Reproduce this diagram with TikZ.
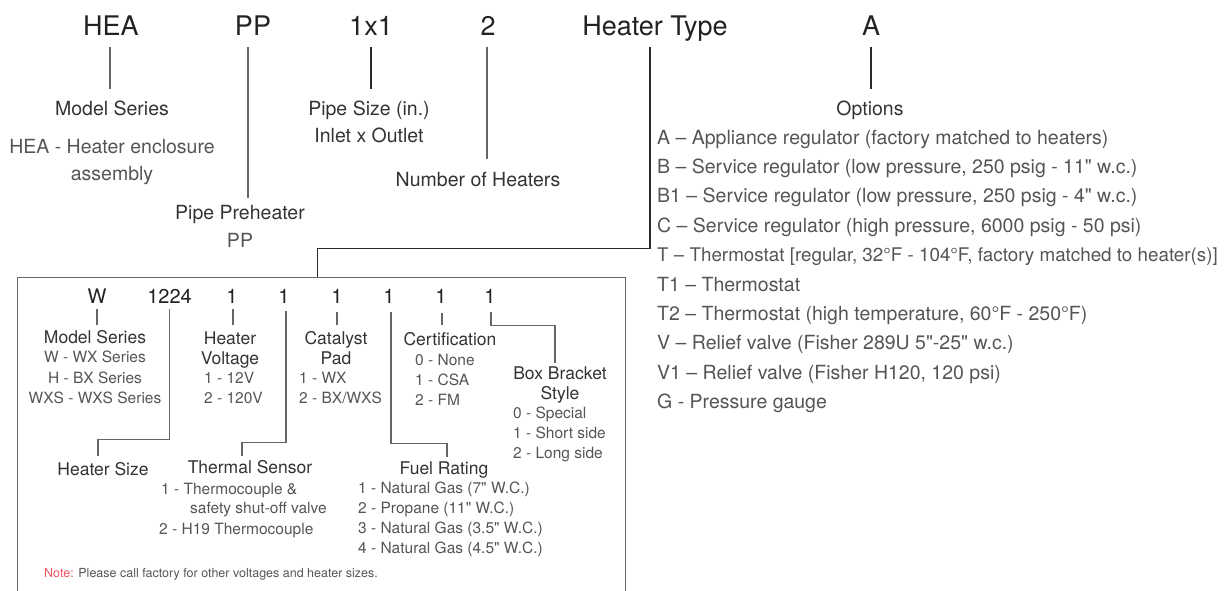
\documentclass[tikz,border=0pt]{standalone}
\usepackage{fontspec}
\setmainfont{TeX Gyre Heros}
\newcommand{\dq}{\textquotedbl}
\definecolor{codeink}{HTML}{222222}
\definecolor{hdrink}{HTML}{333333}
\definecolor{descink}{HTML}{555555}
\definecolor{linegray}{HTML}{666666}
\definecolor{linedark}{HTML}{2a2a2a}
\definecolor{notered}{HTML}{EE5360}
\begin{document}
\begin{tikzpicture}[x=1pt, y=-1pt,
  code/.style={inner sep=0, anchor=base, text depth=0pt, text=codeink, font=\fontsize{27}{32}\selectfont},
  hdr/.style={inner sep=0, anchor=base, text height=14pt, text=hdrink, font=\fontsize{19.5}{24}\selectfont},
  desc/.style={hdr, text=descink},
  bcode/.style={inner sep=0, anchor=base, text depth=0pt, text=codeink, font=\fontsize{20}{24}\selectfont},
  bhdr/.style={inner sep=0, anchor=base, text height=12.6pt, text=hdrink, font=\fontsize{17.5}{21}\selectfont},
  bitem/.style={inner sep=0, anchor=base west, text=descink, font=\fontsize{15.5}{19}\selectfont},
  lnk/.style={draw=linegray, line width=1.1pt},
  lnkdark/.style={draw=linedark, line width=1.1pt}]
  \useasboundingbox (0,0) rectangle (1228,590);

  % code row
  \node[code] (hea)  at (111,35) {HEA};
  \node[code] (pp)   at (253,35) {PP};
  \node[code] (pipe) at (371,35) {1x1};
  \node[code] (num)  at (488,35) {2};
  \node[code] (type) at (655,35) {Heater Type};
  \node[code] (opt)  at (871,35) {A};

  \node[hdr]  (mdl)  at (112,115) {Model Series};
  \node[desc] (mdl1) at (112,153) {HEA - Heater enclosure};
  \node[desc] (mdl2) at (112,180) {assembly};
  \node[hdr]  (pph)  at (240,219) {Pipe Preheater};
  \node[desc] (pph1) at (240,247) {PP};
  \node[hdr]  (psz)  at (369,115) {Pipe Size (in.)};
  \node[hdr]  (psz1) at (369,142) {Inlet x Outlet};
  \node[hdr]  (nht)  at (478,186) {Number of Heaters};
  \node[hdr]  (ops)  at (870,115) {Options};

  \foreach \t [count=\i] in {
      {A – Appliance regulator (factory matched to heaters)},
      {B – Service regulator (low pressure, 250 psig - 11\dq{} w.c.)},
      {B1 – Service regulator (low pressure, 250 psig - 4\dq{} w.c.)},
      {C – Service regulator (high pressure, 6000 psig - 50 psi)},
      {\fontsize{18.8}{24}\selectfont T – Thermostat [regular, 32°F - 104°F, factory matched to heater(s)]},
      {T1 – Thermostat},
      {T2 – Thermostat (high temperature, 60°F - 250°F)},
      {V – Relief valve (Fisher 289U 5\dq{}-25\dq{} w.c.)},
      {V1 – Relief valve (Fisher H120, 120 psi)},
      {G - Pressure gauge}}
    \node[desc, anchor=base west] (op\i) at (657,{144+(\i-1)*29.4}) {\t};

  \draw[lnk, shorten <=12pt, shorten >=12pt] ([xshift=-1pt]hea.south) -- ([xshift=-1pt]hea.south |- mdl.north);
  \draw[lnk, shorten <=12pt, shorten >=7pt] ([xshift=-5pt]pp.south) -- ([xshift=-5pt]pp.south |- pph.north);
  \draw[lnkdark, shorten <=12pt, shorten >=12pt] (pipe.south) -- (pipe.south |- psz.north);
  \draw[lnk, shorten <=12pt, shorten >=13pt] ([xshift=-1pt]num.south) -- ([xshift=-1pt]num.south |- nht.north);
  \draw[lnkdark, shorten <=12pt, shorten >=12pt] (opt.south) -- (opt.south |- ops.north);

  % key box
  \node[draw=linegray, line width=1.1pt, inner sep=0, anchor=north west,
        minimum width=608pt, minimum height=340pt] (keybox) at (17,277) {};
  \draw[lnkdark] ([xshift=-5pt,yshift=-12pt]type.south) -- ([xshift=-5pt,yshift=-213pt]type.south)
    -| ([xshift=-4pt]keybox.north);

  \node[bcode] (bw)  at (97,303)    {W};
  \node[bcode] (bsz) at (169.5,303) {1224};
  \node[bcode] (bv)  at (232,303)   {1};
  \node[bcode] (bts) at (284,303)   {1};
  \node[bcode] (bcp) at (337,303)   {1};
  \node[bcode] (bfr) at (389,303)   {1};
  \node[bcode] (bce) at (441,303)   {1};
  \node[bcode] (bbb) at (490,303)   {1};

  \node[bhdr] (bms) at (95,343.3) {Model Series};
  \node[bitem, anchor=base] at (95,362.6) {W - WX Series};
  \node[bitem, anchor=base] at (95,383.6) {H - BX Series};
  \node[bitem, anchor=base] at (95,403.6) {WXS - WXS Series};

  \node[bhdr] (bhv) at (230,344.3) {Heater};
  \node[bhdr]       at (230,364.3) {Voltage};
  \node[bitem] at (204,383.6) {1 - 12V};
  \node[bitem] at (204,403.6) {2 - 120V};

  \node[bhdr] (bcpd) at (336,344.3) {Catalyst};
  \node[bhdr]        at (336,364.3) {Pad};
  \node[bitem] at (299,383.6) {1 - WX};
  \node[bitem] at (299,403.6) {2 - BX/WXS};

  \node[bhdr] (bcrt) at (450,345.3) {Certification};
  \node[bitem] at (415,365.6) {0 - None};
  \node[bitem] at (415,385.6) {1 - CSA};
  \node[bitem] at (415,405.6) {2 - FM};

  \node[bhdr] (bbs) at (560,379.3) {Box Bracket};
  \node[bhdr]       at (560,399.3) {Style};
  \node[bitem] at (513,418.6) {0 - Special};
  \node[bitem] at (513,438.6) {1 - Short side};
  \node[bitem] at (513,458.6) {2 - Long side};

  \node[bhdr] (hsz) at (103,475.3) {Heater Size};

  \node[bhdr] (tsn) at (250,473.3) {Thermal Sensor};
  \node[bitem] at (161,494.6) {1 - Thermocouple \&};
  \node[bitem] at (190,513.6) {safety shut-off valve};
  \node[bitem] at (159,534.6) {2 - H19 Thermocouple};

  \node[bhdr] (frt) at (444,474.3) {Fuel Rating};
  \node[bitem] at (358,493.6) {1 - Natural Gas (7\dq{} W.C.)};
  \node[bitem] at (358,513.6) {2 - Propane (11\dq{} W.C.)};
  \node[bitem] at (358,533.6) {3 - Natural Gas (3.5\dq{} W.C.)};
  \node[bitem] at (358,553.6) {4 - Natural Gas (4.5\dq{} W.C.)};

  \node[bitem, font=\fontsize{12.5}{15}\selectfont] (nte) at (44,577.5)
    {\textcolor{notered}{Note:} Please call factory for other voltages and heater sizes.};

  % box connectors
  \draw[lnk, shorten <=6pt, shorten >=6pt] (bw.south) -- (bw.south |- bms.north);
  \draw[lnk] ([yshift=-6pt]bsz.south) -- ([yshift=-136pt]bsz.south) -| ([xshift=-5pt,yshift=7pt]hsz.north);
  \draw[lnk, shorten <=6pt, shorten >=7pt] ([xshift=1pt]bv.south) -- ([xshift=1pt]bv.south |- bhv.north);
  \draw[lnk] ([xshift=2pt,yshift=-8pt]bts.south) -- ([xshift=2pt,yshift=-139pt]bts.south) -| ([xshift=-8pt,yshift=5pt]tsn.north);
  \draw[lnk, shorten <=9pt, shorten >=7pt] (bcp.south) -- (bcp.south |- bcpd.north);
  \draw[lnk] ([xshift=2pt,yshift=-9pt]bfr.south) -- ([xshift=2pt,yshift=-140pt]bfr.south) -| ([xshift=3pt,yshift=5pt]frt.north);
  \draw[lnk, shorten <=10pt, shorten >=8pt] ([xshift=1pt]bce.south) -- ([xshift=1pt]bce.south |- bcrt.north);
  \draw[lnk] ([xshift=1pt,yshift=-9pt]bbb.south) -- ([xshift=1pt,yshift=-22pt]bbb.south) -| ([xshift=-5pt,yshift=4pt]bbs.north);
\end{tikzpicture}
\end{document}
